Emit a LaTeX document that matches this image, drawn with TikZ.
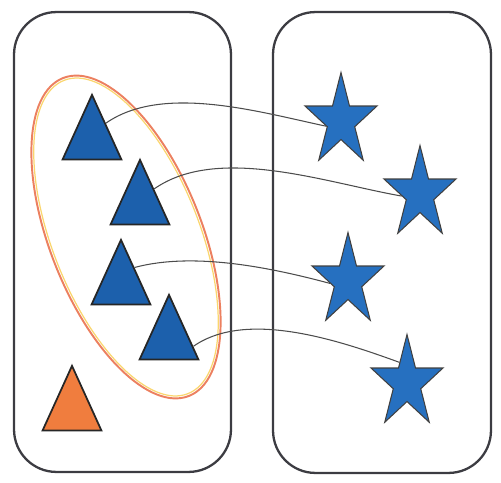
\documentclass[tikz,border=0pt]{standalone}
\usepackage{tikz}
\usetikzlibrary{shapes.geometric}
\definecolor{setgray}{RGB}{60,60,66}
\definecolor{tripblue}{RGB}{28,96,172}
\definecolor{starblue}{RGB}{38,112,192}
\definecolor{triorange}{RGB}{240,125,62}
\definecolor{ringred}{RGB}{236,128,96}
\definecolor{ringyellow}{RGB}{250,214,110}

\begin{document}
\begin{tikzpicture}[
    x=0.02cm, y=-0.02cm,
    setbox/.style={rectangle, rounded corners=0.85cm, draw=setgray,
                   line width=1.3pt, inner sep=0pt},
    tri/.style={regular polygon, regular polygon sides=3, draw=black!85,
                line width=1pt, fill=tripblue, minimum size=1.36cm,
                inner sep=0pt, yscale=1.27},
    startri/.style={star, star points=5, star point ratio=2.618,
                    draw=black!75, line width=0.6pt, fill=starblue,
                    minimum size=1.94cm, inner sep=0pt, xscale=0.78},
    link/.style={draw=black!70, line width=0.6pt}
]
\useasboundingbox (0,0) rectangle (501,483);
\node[setbox, minimum width=4.34cm, minimum height=9.2cm]  (leftset)  at (122.5,242) {};
\node[setbox, minimum width=4.36cm, minimum height=9.22cm] (rightset) at (382,242.5) {};
% the ring round the four blue triangles
\draw[ringred, line width=1.1pt, shift={(126,237)}, rotate=21.6]
    (0,0) ellipse [x radius=1.52cm, y radius=3.42cm];
\draw[ringyellow, line width=0.7pt, shift={(126,237)}, rotate=21.6]
    (0,0) ellipse [x radius=1.47cm, y radius=3.37cm];
\node[tri] (t1) at (92,138) {};
\node[tri] (t2) at (140,203) {};
\node[tri] (t3) at (121,283) {};
\node[tri] (t4) at (169,338) {};
\node[tri, fill=triorange] (odd) at (72,409) {};
\node[startri] (s1) at (341,121) {};
\node[startri] (s2) at (420,194) {};
\node[startri] (s3) at (348,281) {};
\node[startri] (s4) at (407,383) {};
\draw[link] (t1.40)  to[out=35, in=168, looseness=0.8] (s1.195);
\draw[link] (t2.38)  to[out=35, in=170, looseness=0.8] (s2.185);
\draw[link] (t3.42)  to[out=15, in=165, looseness=0.8] (s3.186);
\draw[link] (t4.-15) to[out=35, in=160, looseness=0.8] (s4.115);
\end{tikzpicture}
\end{document}
